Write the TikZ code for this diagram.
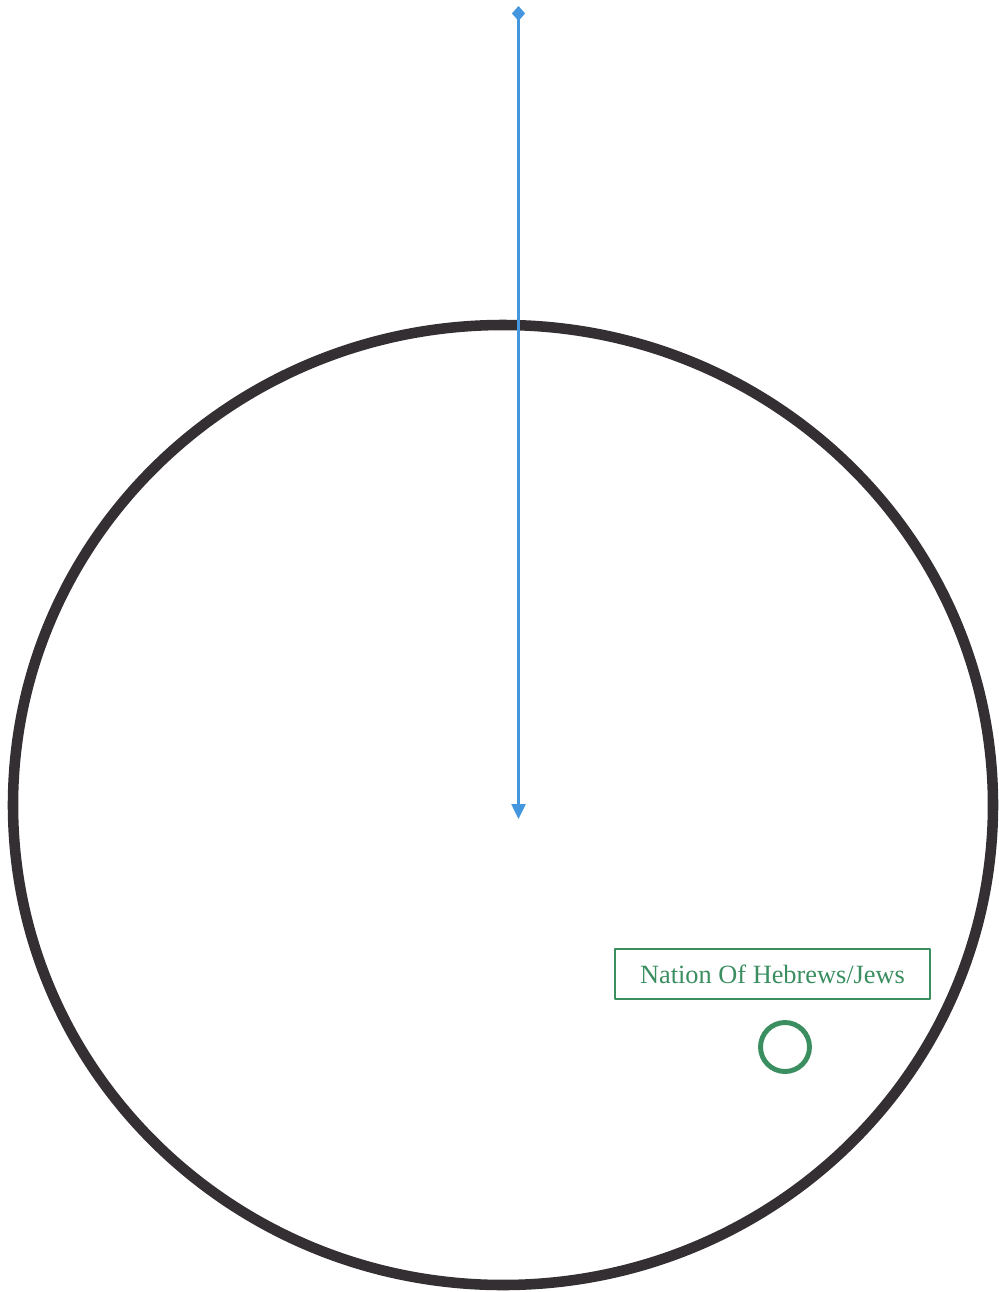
\documentclass[tikz,border=0pt]{standalone}
\usepackage{fontspec}
\setmainfont{Liberation Serif}
\usetikzlibrary{arrows.meta,positioning}

\definecolor{rimgray}{RGB}{52,47,50}
\definecolor{axisblue}{RGB}{68,150,222}
\definecolor{nationgreen}{RGB}{58,142,96}

\begin{document}
\begin{tikzpicture}[
  x=0.02cm,
  y=-0.02cm,
  line cap=round,
  line join=round,
  rim/.style={
    draw=rimgray,
    line width=6pt
  },
  axis/.style={
    {Diamond[width=7.5pt,length=8.5pt]}-{Triangle[width=8pt,length=8.5pt]},
    draw=axisblue,
    fill=axisblue,
    line width=1.2pt
  },
  nationbox/.style={
    rectangle,
    draw=nationgreen,
    line width=1.6pt,
    minimum width=6.3cm,
    minimum height=1cm,
    inner sep=4pt,
    text=nationgreen,
    font=\fontsize{15}{18}\selectfont
  },
  nationdot/.style={
    circle,
    draw=nationgreen,
    line width=2.8pt,
    minimum size=0.98cm,
    inner sep=0pt
  }
]

\useasboundingbox (0,0) rectangle (998,1292);

% world outline
\draw[rim] (503,805) ellipse [x radius=490, y radius=480];

% vertical axis
\coordinate (axistop) at (518.5,6);
\coordinate (axistip) at (518.5,819);
\draw[axis] (axistop) -- (axistip);

% label and marker
\node[nationbox] (nation) at (772.5,974) {Nation Of Hebrews/Jews};
\node[nationdot] (dot) at (785,1047) {};

\end{tikzpicture}
\end{document}
